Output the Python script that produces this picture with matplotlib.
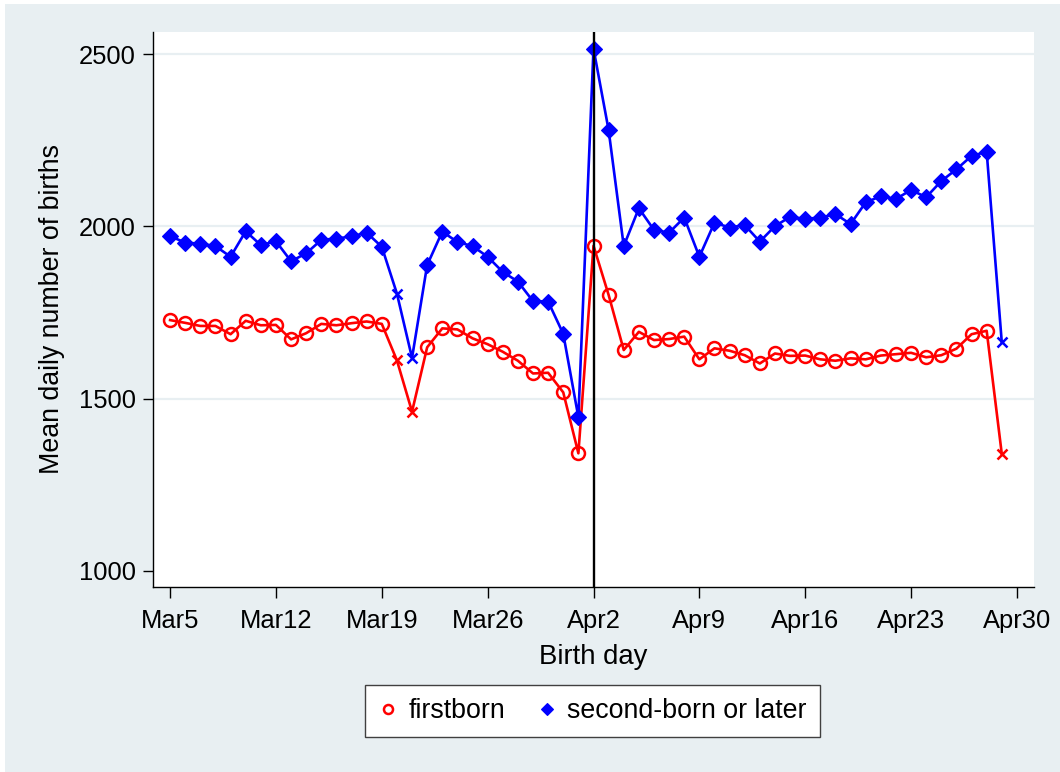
import matplotlib
matplotlib.use("Agg")
import matplotlib.pyplot as plt
import matplotlib.dates as mdates
from matplotlib.lines import Line2D
from matplotlib.patches import Rectangle
import pandas as pd

plt.rcParams['font.family'] = ['Liberation Sans', 'DejaVu Sans']

# Naissances moyennes par jour, du 5 mars au 29 avril
jours = pd.date_range("2001-03-05", "2001-04-29", freq="D")

premier_ne = [1728, 1720, 1711, 1711, 1687, 1726, 1713, 1714, 1672, 1690,
              1717, 1713, 1719, 1724, 1717, 1611, 1462, 1649, 1704, 1701,
              1675, 1658, 1636, 1610, 1573, 1575, 1518, 1341, 1944, 1801,
              1641, 1694, 1670, 1673, 1680, 1614, 1646, 1639, 1626, 1602,
              1631, 1624, 1625, 1614, 1610, 1617, 1614, 1625, 1629, 1633,
              1620, 1626, 1645, 1687, 1697, 1339]

suivants = [1972, 1953, 1950, 1943, 1912, 1986, 1946, 1957, 1899, 1922,
            1961, 1965, 1971, 1982, 1941, 1805, 1618, 1888, 1985, 1955,
            1943, 1912, 1868, 1840, 1783, 1782, 1688, 1446, 2517, 2280,
            1943, 2053, 1990, 1982, 2026, 1912, 2011, 1997, 2004, 1956,
            2001, 2028, 2022, 2026, 2036, 2007, 2070, 2088, 2080, 2106,
            2085, 2132, 2166, 2205, 2217, 1663]

# jours marqués d'une croix
jours_speciaux = pd.to_datetime(["2001-03-20", "2001-03-21", "2001-04-29"])
date_coupure = pd.Timestamp("2001-04-02")

ticks_x = pd.date_range("2001-03-05", "2001-04-30", freq="7D")
labels_x = ["Mar5", "Mar12", "Mar19", "Mar26", "Apr2", "Apr9", "Apr16", "Apr23", "Apr30"]
ticks_y = [1000, 1500, 2000, 2500]

FOND = '#e8eff2'
ROUGE = '#ff0000'
BLEU = '#0000ff'


def tracer_serie(ax, valeurs, couleur, marqueur, style_marqueur):
    df = pd.DataFrame({'jour': jours, 'valeur': valeurs})
    special = df['jour'].isin(jours_speciaux)
    ax.plot(df['jour'], df['valeur'], color=couleur, lw=1.9, zorder=3)
    normal = df[~special]
    ax.plot(normal['jour'], normal['valeur'], linestyle='none', marker=marqueur,
            color=couleur, zorder=4, **style_marqueur)
    croix = df[special]
    ax.plot(croix['jour'], croix['valeur'], linestyle='none', marker='x',
            color=couleur, ms=6.5, mew=1.8, zorder=4)


fig = plt.figure(figsize=(10.6, 7.72), dpi=100, facecolor='white')
fig.patches.append(Rectangle((5 / 1060, -0.01), 1, 1.01 - 4 / 772, transform=fig.transFigure,
                             facecolor=FOND, edgecolor='none', zorder=-1))
ax = fig.add_axes([153 / 1060, 1 - 587 / 772, (1034 - 153) / 1060, (587 - 32) / 772])
ax.set_facecolor('white')

for y in ticks_y[1:]:
    ax.axhline(y, color=FOND, lw=1.6, zorder=1)

tracer_serie(ax, premier_ne, ROUGE, 'o',
             dict(ms=9.3, mfc='none', mec=ROUGE, mew=1.8))
tracer_serie(ax, suivants, BLEU, 'D',
             dict(ms=8.3, mfc=BLEU, mec=BLEU, mew=0.8))

ax.axvline(date_coupure, color='black', lw=1.7, zorder=5)

x0 = mdates.date2num(ticks_x[0])
x1 = mdates.date2num(ticks_x[-1])
ax.set_xlim(x0 - 1.13, x1 + 1.13)
ax.set_ylim(952.6, 2565)

ax.set_xticks(ticks_x)
ax.set_xticklabels(labels_x)
ax.set_yticks(ticks_y)
ax.tick_params(axis='x', length=8, width=1, pad=8, labelsize=18.4)
ax.tick_params(axis='y', length=7.5, width=1, pad=5, labelsize=18.4)

for cote in ['top', 'right']:
    ax.spines[cote].set_visible(False)
for cote in ['left', 'bottom']:
    ax.spines[cote].set_linewidth(1)
    ax.spines[cote].set_color('black')

ax.set_xlabel("Birth day", fontsize=19.8, labelpad=8)
ax.set_ylabel("Mean daily number of births", fontsize=19.3, labelpad=10)

poignees = [
    Line2D([], [], linestyle='none', marker='o', ms=6.5, mfc='none', mec=ROUGE, mew=1.8),
    Line2D([], [], linestyle='none', marker='D', ms=6, mfc=BLEU, mec=BLEU, mew=0.8),
]
leg = fig.legend(poignees, ["firstborn", "second-born or later"], loc='center',
                 bbox_to_anchor=(592.5 / 1060, 1 - 711 / 772), ncol=2, fontsize=19.3,
                 frameon=True, fancybox=False, edgecolor='#404040', framealpha=1,
                 handlelength=0.7, handletextpad=0.4, columnspacing=1.2,
                 borderpad=0.5)
leg.get_frame().set_linewidth(1)

fig.savefig("out.png", dpi=100, facecolor='white')
